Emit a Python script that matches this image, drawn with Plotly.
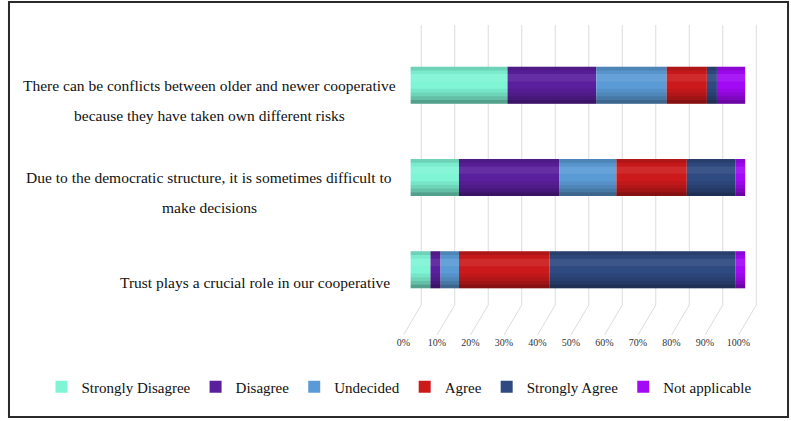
import plotly.graph_objects as go

# ---------------- data ----------------
categories = [
    "Trust plays a crucial role in our cooperative",
    "Due to the democratic structure, it is sometimes difficult to make decisions",
    "There can be conflicts between older and newer cooperative because they have taken own different risks",
]
category_lines = [
    ["Trust plays a crucial role in our cooperative"],
    ["Due to the democratic structure, it is sometimes difficult to", "make decisions"],
    ["There can be conflicts between older and newer cooperative", "because they have taken own different risks"],
]
series_names = ["Strongly Disagree", "Disagree", "Undecided", "Agree", "Strongly Agree", "Not applicable"]
strongly_disagree = [6, 14.5, 29]
disagree = [3, 30, 26.5]
undecided = [5.5, 17, 21]
agree = [27, 21, 12]
strongly_agree = [55.5, 14.5, 3]
not_applicable = [3, 3, 8.5]
tick_values = [0, 10, 20, 30, 40, 50, 60, 70, 80, 90, 100]
tick_labels = ["0%", "10%", "20%", "30%", "40%", "50%", "60%", "70%", "80%", "90%", "100%"]

series_values = [strongly_disagree, disagree, undecided, agree, strongly_agree, not_applicable]
colors = ["#7ff5d5", "#5a1f9c", "#5b9bd5", "#cc1a1c", "#2f4a80", "#a20af5"]

W, H = 791, 421
FONT = "Liberation Serif, Times New Roman, serif"


def fx(px):
    return px / W


def fy(py):
    return 1 - py / H


fig = go.Figure()

# ---------------- 3D-like gridlines (base subplot x/y) ----------------
depth = 5.3          # back wall offset in axis units
floor_back = 0.0968  # where the back wall meets the floor
gx, gy = [], []
for t in tick_values:
    gx += [t, t + depth, t + depth, None]
    gy += [0, floor_back, 1, None]
fig.add_trace(go.Scatter(
    x=gx, y=gy, mode="lines", line=dict(color="#dcdcdc", width=1),
    hoverinfo="skip", showlegend=False, xaxis="x", yaxis="y"))

# ---------------- stacked bars (subplot x2/y2) ----------------
BW = 0.40
bases = [0.0] * len(categories)
for name, vals, col in zip(series_names, series_values, colors):
    fig.add_trace(go.Bar(
        name=name, y=categories, x=vals, base=list(bases), orientation="h",
        marker=dict(color=col, line=dict(width=0)), width=BW, offset=-BW / 2,
        xaxis="x2", yaxis="y2"))
    bases = [b + v for b, v in zip(bases, vals)]

totals = bases
# cylinder shading overlays (span the full stacked length of each bar)
shades = [
    (-0.20, 0.04, "rgba(0,0,0,0.34)"),
    (-0.16, 0.04, "rgba(0,0,0,0.22)"),
    (-0.12, 0.04, "rgba(0,0,0,0.13)"),
    (-0.08, 0.04, "rgba(0,0,0,0.06)"),
    (0.04, 0.04, "rgba(255,255,255,0.07)"),
    (0.08, 0.04, "rgba(255,255,255,0.07)"),
    (0.12, 0.04, "rgba(0,0,0,0.04)"),
    (0.16, 0.04, "rgba(0,0,0,0.14)"),
]
for off, wd, c in shades:
    fig.add_trace(go.Bar(
        y=categories, x=totals, base=[0] * len(categories), orientation="h",
        marker=dict(color=c, line=dict(width=0)), width=wd, offset=off,
        hoverinfo="skip", showlegend=False, xaxis="x2", yaxis="y2"))

# ---------------- category labels ----------------
for cat, lines in zip(categories, category_lines):
    if len(lines) == 1:
        fig.add_annotation(x=fx(388), xref="paper", y=cat, yref="y2", yshift=-13,
                           text=lines[0], showarrow=False, xanchor="right", yanchor="middle",
                           font=dict(family=FONT, size=15.5, color="#111"))
    else:
        for i, ln in enumerate(lines):
            fig.add_annotation(x=fx(204), xref="paper", y=cat, yref="y2", yshift=-30 * i,
                               text=ln, showarrow=False, xanchor="center", yanchor="middle",
                               font=dict(family=FONT, size=15.5, color="#111"))

# ---------------- border ----------------
fig.add_shape(type="rect", xref="paper", yref="paper",
              x0=fx(2), x1=fx(788), y0=fy(417), y1=fy(2),
              line=dict(color="#2a2a2a", width=2), fillcolor="rgba(0,0,0,0)", layer="above")

fig.update_layout(
    width=W, height=H, autosize=False,
    margin=dict(l=0, r=0, t=0, b=0),
    paper_bgcolor="white", plot_bgcolor="rgba(0,0,0,0)",
    barmode="overlay",
    font=dict(family=FONT, color="#111"),
    xaxis=dict(domain=[fx(400), fx(757)], range=[0, 105.6], showgrid=False, zeroline=False,
               showline=False, tickvals=tick_values, ticktext=tick_labels, ticks="",
               tickfont=dict(family=FONT, size=10, color="#333"), anchor="y", fixedrange=True),
    yaxis=dict(domain=[fy(335), fy(25)], range=[0, 1], visible=False, fixedrange=True),
    xaxis2=dict(domain=[fx(407), fx(745)], range=[0, 100], visible=False, anchor="y2", fixedrange=True),
    yaxis2=dict(domain=[fy(316), fy(39)], range=[-0.5, 2.5], type="category",
                categoryorder="array", categoryarray=categories, visible=False,
                anchor="x2", fixedrange=True),
    legend=dict(orientation="h", x=0.5, xanchor="center", y=fy(387), yanchor="middle",
                font=dict(family=FONT, size=15, color="#111"), traceorder="normal",
                itemwidth=30, bgcolor="rgba(0,0,0,0)"),
    showlegend=True,
)

fig.write_html("out.html",
               config={"displayModeBar": False},
               post_script="document.body.style.margin='0';document.body.style.overflow='hidden';")
